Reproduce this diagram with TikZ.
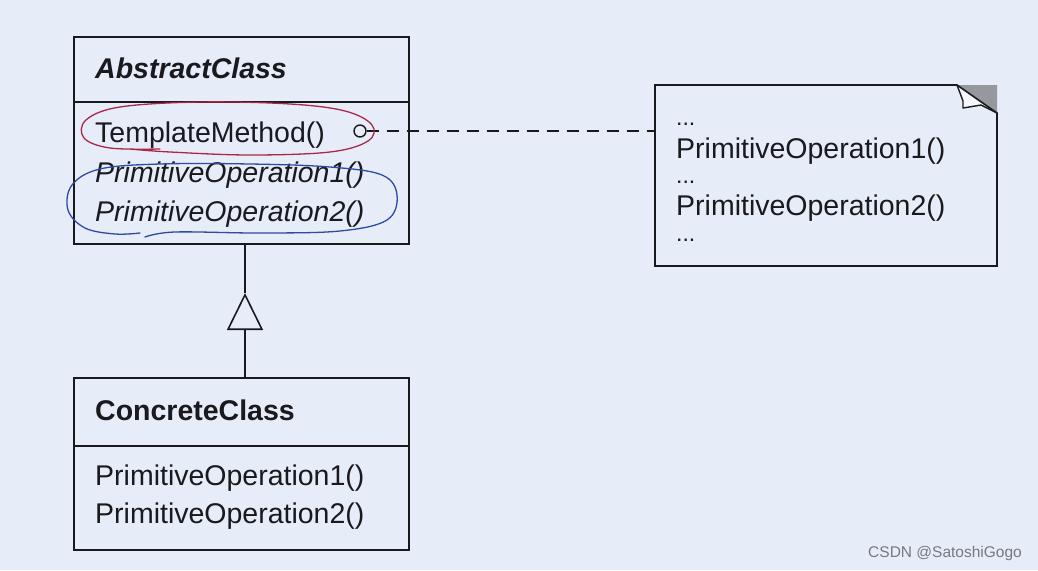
\documentclass[tikz,border=0pt]{standalone}
\usepackage{fontspec}
\setmainfont{Liberation Sans}
\usetikzlibrary{arrows.meta}
\definecolor{bg}{RGB}{230,237,249}
\definecolor{ink}{RGB}{25,25,30}
\definecolor{redpen}{RGB}{170,40,70}
\definecolor{bluepen}{RGB}{45,75,160}
\definecolor{foldgray}{RGB}{150,152,158}
\definecolor{wm}{RGB}{120,120,125}
\newcommand{\fs}{\fontsize{28.5}{29}\selectfont}
\newcommand{\dts}{{\fontsize{23}{29}\selectfont ...}}
\tikzset{
  umlbox/.style={draw=ink, line width=1.6pt, minimum width=335pt, anchor=north west, inner sep=0pt, outer sep=0pt},
  txt/.style={anchor=base west, inner sep=0pt, text=ink, font=\fs},
  conn/.style={draw=ink, line width=1.6pt},
  pen/.style={line width=1.3pt, line cap=round, line join=round}
}
\begin{document}
\begin{tikzpicture}[x=1pt,y=-1pt]
\fill[bg] (0,0) rectangle (1038,570);
\useasboundingbox (0,0) rectangle (1038,570);

% Abstract class
\node[umlbox, minimum height=207pt] (abs) at (74,37) {};
\draw[conn] (74,102) -- (409,102);
\node[txt, font=\fs\bfseries\itshape] (absname) at (95,78) {AbstractClass};
\node[txt] (tm) at (95,142) {TemplateMethod()};
\node[txt, font=\fs\itshape] (apo1) at (95,182) {PrimitiveOperation1()};
\node[txt, font=\fs\itshape] (apo2) at (95,221) {PrimitiveOperation2()};

% Concrete class
\node[umlbox, minimum height=172pt] (conc) at (74,378) {};
\draw[conn] (74,446) -- (409,446);
\node[txt, font=\fs\bfseries] (concname) at (95,420) {ConcreteClass};
\node[txt] (cpo1) at (95,485) {PrimitiveOperation1()};
\node[txt] (cpo2) at (95,523) {PrimitiveOperation2()};

% Inheritance
\coordinate (apex) at (245,293);
\draw[conn] (abs.south -| apex) -- (apex);
\draw[conn, -{Triangle[open, length=37pt, width=36pt, line width=1.6pt]}] (conc.north -| apex) -- (apex);

% Note
\node[draw=none, minimum width=342pt, minimum height=181pt, anchor=north west, inner sep=0pt, outer sep=0pt] (note) at (655,85) {};
\fill[foldgray] (957,85) -- (997,85) -- (997,113) -- cycle;
\fill[white!60!bg] (957,85) -- (963,101) -- (963,108) -- (981,105) -- (997,113) -- cycle;
\draw[conn, line join=miter] (957,85) -- (655,85) -- (655,266) -- (997,266) -- (997,113) -- cycle;
\draw[ink, line width=1.4pt, line join=round] (957,85) -- (963,101) -- (963,108) -- (981,105) -- (997,113);
\node[txt, align=left, font=\fs] (notetext) at (676,241) {\dts\\[4pt]PrimitiveOperation1()\\[-4pt]\dts\\[3pt]PrimitiveOperation2()\\[-3pt]\dts};

% Note connector
\node[draw=ink, circle, line width=1.4pt, minimum size=12pt, inner sep=0pt] (circ) at (360,131) {};
\draw[conn, dash pattern=on 12pt off 8pt] (circ.east) -- (circ.east -| note.west);

% Hand-drawn marks
\draw[pen, redpen] plot[smooth, tension=0.6] coordinates {
  (160,149) (110,148) (84,138) (86,120) (120,107) (200,102) (290,104) (345,111) (372,125) (368,141) (330,152) (250,155) (170,152) (130,149)};
\draw[pen, bluepen] plot[smooth, tension=0.6] coordinates {
  (145,237) (175,232) (260,233) (340,231) (387,220) (397,195) (382,175) (330,167) (250,164) (160,164) (100,169) (72,185) (68,210) (85,228) (115,234) (140,233)};

% Watermark
\node[anchor=base east, inner sep=0pt, text=wm, font=\fontsize{15.5}{17}\selectfont] (wmk) at (1022,557) {CSDN @SatoshiGogo};
\end{tikzpicture}
\end{document}
